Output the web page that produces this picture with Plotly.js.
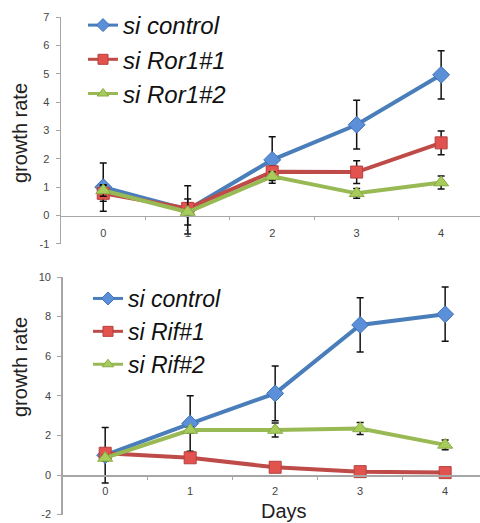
<!DOCTYPE html>
<html>
<head>
<meta charset="utf-8">
<script src="https://cdn.plot.ly/plotly-3.0.1.min.js"></script>
<style>html,body{margin:0;padding:0;background:#fff;}#chart{width:480px;height:523px;}</style>
</head>
<body>
<div id="chart"></div>
<script>
// ---- data ----
const days = [0, 1, 2, 3, 4];
const dayLabels = ["0", "1", "2", "3", "4"];
const topYTicks = [-1, 0, 1, 2, 3, 4, 5, 6, 7];
const topYLabels = ["-1", "0", "1", "2", "3", "4", "5", "6", "7"];
const botYTicks = [-2, 0, 2, 4, 6, 8, 10];
const botYLabels = ["-2", "0", "2", "4", "6", "8", "10"];

// top panel (Ror1)
const topNames = ["si control", "si Ror1#1", "si Ror1#2"];
const topControl = [1.0, 0.2, 1.96, 3.2, 4.96];
const topControlErr = [0.85, 0.85, 0.82, 0.86, 0.85];
const topRor1a = [0.78, 0.25, 1.54, 1.53, 2.56];
const topRor1aErr = [0.28, 0.2, 0.2, 0.4, 0.42];
const topRor1b = [0.88, 0.12, 1.38, 0.78, 1.16];
const topRor1bErr = [0.2, 0.46, 0.15, 0.17, 0.23];

// bottom panel (Rif)
const botNames = ["si control", "si Rif#1", "si Rif#2"];
const botControl = [1.0, 2.6, 4.12, 7.58, 8.12];
const botControlErr = [1.4, 1.4, 1.38, 1.37, 1.37];
const botRifa = [1.1, 0.87, 0.39, 0.17, 0.12];
const botRifaErr = [0.1, 0.1, 0.1, 0.08, 0.08];
const botRifb = [0.86, 2.27, 2.27, 2.35, 1.52];
const botRifbErr = [0.15, 0.15, 0.35, 0.3, 0.25];

// ---- styles ----
const lineCols = ["#4a7ebb", "#be4b48", "#98b954"];
const markCols = ["#5b8fd8", "#e2524f", "#a8cc5c"];
const markEdge = ["#3d6fb5", "#b5403d", "#88aa45"];
const symbols = ["diamond", "square", "triangle-up"];
const sizes = [13, 12, 13];
const legSizes = [10, 10, 10];

function mk(y, err, i, name, xa, ya) {
  return {
    type: "scatter", mode: "lines+markers",
    x: days, y: y, name: name, showlegend: false,
    xaxis: xa, yaxis: ya,
    line: {color: lineCols[i], width: 4},
    marker: {symbol: symbols[i], size: sizes[i], color: markCols[i], line: {color: markEdge[i], width: 1}},
    error_y: {type: "data", array: err, visible: true, color: "#111", thickness: 1.5, width: 3.5}
  };
}
// legend-only entries (no points drawn), styled like the reference's smaller legend keys
function lg(i, name, xa, ya, leg, grp) {
  return {
    type: "scatter", mode: "lines+markers",
    x: [null], y: [null], name: name, showlegend: true,
    xaxis: xa, yaxis: ya, legend: leg, legendgroup: grp,
    line: {color: lineCols[i], width: 3},
    marker: {symbol: symbols[i], size: legSizes[i], color: markCols[i], line: {color: markEdge[i], width: 1}}
  };
}

const traces = [
  mk(topControl, topControlErr, 0, topNames[0], "x", "y"),
  mk(topRor1a, topRor1aErr, 1, topNames[1], "x", "y"),
  mk(topRor1b, topRor1bErr, 2, topNames[2], "x", "y"),
  mk(botControl, botControlErr, 0, botNames[0], "x2", "y2"),
  mk(botRifa, botRifaErr, 1, botNames[1], "x2", "y2"),
  mk(botRifb, botRifbErr, 2, botNames[2], "x2", "y2"),
  lg(0, topNames[0], "x", "y", "legend", "a0"),
  lg(1, topNames[1], "x", "y", "legend", "a1"),
  lg(2, topNames[2], "x", "y", "legend", "a2"),
  lg(0, botNames[0], "x2", "y2", "legend2", "b0"),
  lg(1, botNames[1], "x2", "y2", "legend2", "b1"),
  lg(2, botNames[2], "x2", "y2", "legend2", "b2")
];

const H = 523;
const axisGray = "#a6a6a6";
const tickFont = {family: "Liberation Sans, Arial, sans-serif", size: 11, color: "#444"};

function xax(domain, range, pos, standoff) {
  return {
    domain: domain, range: range, anchor: "free", position: pos,
    tickmode: "array", tickvals: days, ticktext: dayLabels,
    ticks: "outside", ticklen: 4, tickcolor: "rgba(0,0,0,0)",
    minor: {tickvals: [0.5, 1.5, 2.5, 3.5], ticks: "outside", ticklen: 3, tickcolor: axisGray, tickwidth: 1},
    showline: true, linecolor: axisGray, linewidth: 1.5,
    showgrid: false, zeroline: false, tickfont: tickFont, ticklabelstandoff: standoff, fixedrange: true
  };
}
function yax(domain, range, tv, tt, xa) {
  return {
    domain: domain, range: range, anchor: xa,
    tickmode: "array", tickvals: tv, ticktext: tt,
    ticks: "outside", ticklen: 4, tickcolor: axisGray, tickwidth: 1,
    showline: true, linecolor: axisGray, linewidth: 1.5,
    showgrid: false, zeroline: false, tickfont: tickFont, ticklabelstandoff: 4, fixedrange: true
  };
}

const legFont = {family: "Liberation Sans, Arial, sans-serif", size: 24, color: "#111", style: "italic"};

const layout = {
  width: 480, height: 523,
  margin: {l: 0, r: 0, t: 0, b: 0},
  paper_bgcolor: "#fff", plot_bgcolor: "#fff",
  showlegend: true,
  xaxis: xax([61 / 480, 1], [-0.5, 4.46], 1 - 215.5 / H, 3),
  yaxis: yax([1 - 243.8 / H, 1 - 17 / H], [-1, 7], topYTicks, topYLabels, "x"),
  xaxis2: xax([62.7 / 480, 1], [-0.5, 4.41], 1 - 475 / H, 1),
  yaxis2: yax([1 - 514.6 / H, 1 - 277 / H], [-2, 10], botYTicks, botYLabels, "x2"),
  legend: {x: 83 / 480, y: 1 - 3 / H, xanchor: "left", yanchor: "top", bgcolor: "rgba(0,0,0,0)",
           font: legFont, tracegroupgap: 2, traceorder: "normal"},
  legend2: {x: 88 / 480, y: 1 - 277 / H, xanchor: "left", yanchor: "top", bgcolor: "rgba(0,0,0,0)",
            font: Object.assign({}, legFont, {size: 23}), tracegroupgap: 0, traceorder: "normal"},
  annotations: [
    {text: "growth rate", textangle: -90, x: 20 / 480, y: 1 - 133 / H, xref: "paper", yref: "paper",
     showarrow: false, xanchor: "center", yanchor: "middle",
     font: {family: "Liberation Sans, Arial, sans-serif", size: 20, color: "#222"}},
    {text: "growth rate", textangle: -90, x: 20 / 480, y: 1 - 367 / H, xref: "paper", yref: "paper",
     showarrow: false, xanchor: "center", yanchor: "middle",
     font: {family: "Liberation Sans, Arial, sans-serif", size: 20, color: "#222"}},
    {text: "Days", x: 284 / 480, y: 1 - 511 / H, xref: "paper", yref: "paper",
     showarrow: false, xanchor: "center", yanchor: "middle",
     font: {family: "Liberation Sans, Arial, sans-serif", size: 20, color: "#222"}}
  ]
};

Plotly.newPlot("chart", traces, layout, {staticPlot: true, displayModeBar: false});
</script>
</body>
</html>
